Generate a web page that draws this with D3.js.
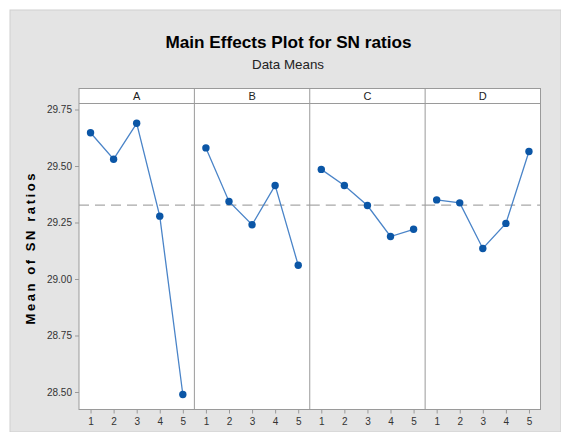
<!DOCTYPE html>
<html><head><meta charset="utf-8">
<script src="https://cdn.jsdelivr.net/npm/d3@7"></script>
<style>html,body{margin:0;padding:0;background:#fff;}svg{display:block;}</style>
</head><body>
<script>
const factors = ["A", "B", "C", "D"];
const levels = [1, 2, 3, 4, 5];
const valuesA = [29.647, 29.530, 29.689, 29.278, 28.489];
const valuesB = [29.580, 29.343, 29.240, 29.414, 29.061];
const valuesC = [29.485, 29.414, 29.325, 29.188, 29.220];
const valuesD = [29.350, 29.337, 29.135, 29.246, 29.564];
const overallMean = 29.327;
const yTicks = [28.50, 28.75, 29.00, 29.25, 29.50, 29.75];
const series = [valuesA, valuesB, valuesC, valuesD];

const W = 561, H = 432;
const plotL = 79, plotR = 540.5, plotT = 103.5, plotB = 409.5, stripT = 88.5;
const svg = d3.select("body").append("svg").attr("width", W).attr("height", H);

// background
svg.append("rect").attr("x", 10).attr("y", 10).attr("width", W - 10).attr("height", H - 10)
  .attr("fill", "#e4e4e4").attr("stroke", "#cfcfcf").attr("stroke-width", 1);

// titles
svg.append("text").attr("x", 288.5).attr("y", 47.5).attr("text-anchor", "middle")
  .attr("font-family", "'Liberation Sans Narrow','Liberation Sans',Arial,sans-serif")
  .attr("font-weight", "bold").attr("font-size", 17).attr("fill", "#000")
  .attr("textLength", 246).attr("lengthAdjust", "spacingAndGlyphs")
  .text("Main Effects Plot for SN ratios");
svg.append("text").attr("x", 288).attr("y", 68.5).attr("text-anchor", "middle")
  .attr("font-family", "'Liberation Sans Narrow','Liberation Sans',Arial,sans-serif")
  .attr("font-size", 13).attr("fill", "#222")
  .attr("textLength", 72).attr("lengthAdjust", "spacingAndGlyphs")
  .text("Data Means");

// y label
svg.append("text").attr("transform", "translate(35,249) rotate(-90)").attr("text-anchor", "middle")
  .attr("font-family", "'Liberation Sans',Arial,sans-serif").attr("font-weight", "bold")
  .attr("font-size", 13).attr("fill", "#000")
  .attr("textLength", 151).attr("lengthAdjust", "spacing")
  .text("Mean of SN ratios");

const y = d3.scaleLinear().domain([28.5, 29.75]).range([392, 109.5]);
const panel = d3.scaleBand().domain(factors).range([plotL, plotR]).padding(0);
const pw = panel.bandwidth();

// plot area
svg.append("rect").attr("x", plotL).attr("y", stripT).attr("width", plotR - plotL).attr("height", plotB - stripT)
  .attr("fill", "#fff");

// y axis
const yAxis = svg.append("g").attr("transform", `translate(${plotL},0)`)
  .call(d3.axisLeft(y).tickValues(yTicks).tickFormat(d3.format(".2f")).tickSize(4).tickPadding(3));
yAxis.select(".domain").remove();
yAxis.selectAll("line").attr("stroke", "#999");
yAxis.selectAll("text").attr("font-family", "'Liberation Sans',Arial,sans-serif").attr("font-size", 10).attr("fill", "#333");

const lineGen = d3.line();

factors.forEach((f, i) => {
  const x = d3.scaleLinear().domain([0.5, 5.5]).range([panel(f), panel(f) + pw]);
  const xAxis = svg.append("g").attr("transform", `translate(0,${plotB})`)
    .call(d3.axisBottom(x).tickValues(levels).tickFormat(d3.format("d")).tickSize(4).tickPadding(4));
  xAxis.select(".domain").remove();
  xAxis.selectAll("line").attr("stroke", "#999");
  xAxis.selectAll("text").attr("font-family", "'Liberation Sans',Arial,sans-serif").attr("font-size", 10).attr("fill", "#333");

  // strip label
  svg.append("text").attr("x", panel(f) + pw / 2).attr("y", 99.5).attr("text-anchor", "middle")
    .attr("font-family", "'Liberation Sans',Arial,sans-serif").attr("font-size", 11).attr("fill", "#222")
    .text(f);

  // mean line
  svg.append("line").attr("x1", panel(f)).attr("x2", panel(f) + pw)
    .attr("y1", y(overallMean)).attr("y2", y(overallMean))
    .attr("stroke", "#a8a8a8").attr("stroke-width", 1.3).attr("stroke-dasharray", "10,6");

  const pts = levels.map((l, j) => [x(l), y(series[i][j])]);
  svg.append("path").attr("d", lineGen(pts)).attr("fill", "none")
    .attr("stroke", "#4a84c8").attr("stroke-width", 1.3);
  svg.selectAll(null).data(pts).enter().append("circle")
    .attr("cx", d => d[0]).attr("cy", d => d[1]).attr("r", 3.7).attr("fill", "#0b56a6");
});

// frames
svg.append("rect").attr("x", plotL).attr("y", stripT).attr("width", plotR - plotL).attr("height", plotB - stripT)
  .attr("fill", "none").attr("stroke", "#9a9a9a").attr("stroke-width", 1);
svg.append("line").attr("x1", plotL).attr("x2", plotR).attr("y1", plotT).attr("y2", plotT)
  .attr("stroke", "#9a9a9a").attr("stroke-width", 1);
factors.slice(1).forEach(f => {
  svg.append("line").attr("x1", panel(f)).attr("x2", panel(f)).attr("y1", stripT).attr("y2", plotB)
    .attr("stroke", "#9a9a9a").attr("stroke-width", 1);
});
</script>
</body></html>
